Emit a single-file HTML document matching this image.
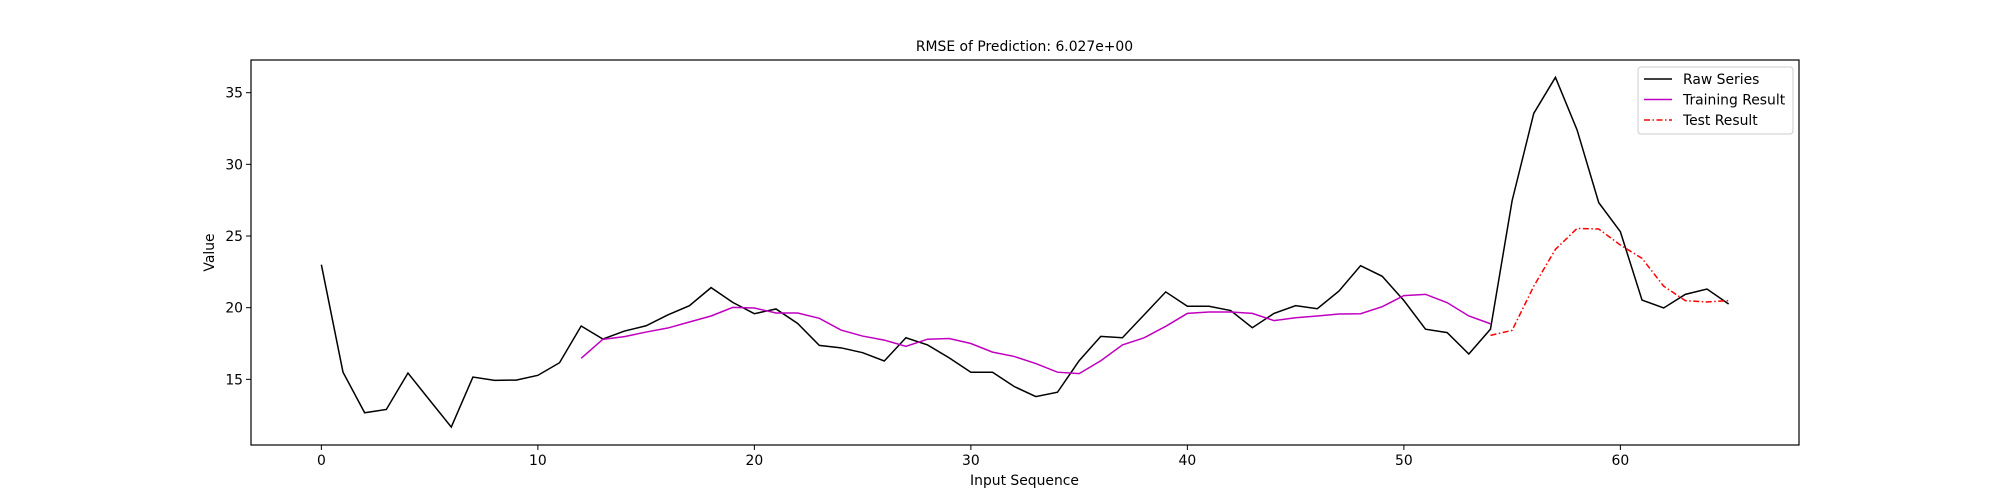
<!DOCTYPE html>
<html><head><meta charset="utf-8"><style>
html,body{margin:0;padding:0;background:#fff;}
svg{display:block;font-family:"DejaVu Sans","Liberation Sans",sans-serif;}
</style></head><body>
<svg id="chart" width="2000" height="500" viewBox="0 0 2000 500">
<rect x="0" y="0" width="2000" height="500" fill="#fff"/>
<text x="1024.5" y="51" text-anchor="middle" font-size="13.9">RMSE of Prediction: 6.027e+00</text>
<g id="plot"></g>
<rect x="251" y="60" width="1548" height="385" fill="none" stroke="#000" stroke-width="1.2"/>
<text x="1024.5" y="485" text-anchor="middle" font-size="13.9">Input Sequence</text>
<text x="0" y="0" transform="translate(214,252.5) rotate(-90)" text-anchor="middle" font-size="13.9">Value</text>
<g>
<rect x="1638" y="67" width="155" height="67" rx="3" fill="#fff" stroke="#ccc" stroke-width="1"/>
<line x1="1644" y1="79" x2="1672" y2="79" stroke="#000" stroke-width="1.5"/>
<text x="1683" y="84" font-size="13.9">Raw Series</text>
<line x1="1644" y1="99.5" x2="1672" y2="99.5" stroke="#c000c0" stroke-width="1.5"/>
<text x="1683" y="104.5" font-size="13.9">Training Result</text>
<line x1="1644" y1="120" x2="1672" y2="120" stroke="#f00" stroke-width="1.5" stroke-dasharray="6,2.5,1.5,2.5"/>
<text x="1683" y="125" font-size="13.9">Test Result</text>
</g>
</svg>
<script>
const rawValues=[23.0,15.5,12.67,12.9,15.44,13.55,11.67,15.16,14.93,14.95,15.28,16.16,18.72,17.81,18.37,18.74,19.49,20.14,21.4,20.37,19.58,19.91,18.9,17.37,17.2,16.86,16.28,17.9,17.4,16.5,15.5,15.5,14.5,13.8,14.1,16.3,18.0,17.9,19.5,21.1,20.1,20.1,19.8,18.6,19.6,20.14,19.93,21.16,22.93,22.19,20.5,18.5,18.26,16.77,18.5,27.47,33.56,36.07,32.4,27.33,25.3,20.53,19.98,20.93,21.3,20.26];
const trainStart=12;
const trainValues=[16.47,17.79,17.98,18.3,18.58,19.0,19.42,20.02,19.98,19.63,19.63,19.26,18.44,18.02,17.74,17.3,17.8,17.85,17.5,16.9,16.6,16.1,15.5,15.4,16.3,17.4,17.9,18.7,19.6,19.7,19.7,19.6,19.1,19.3,19.42,19.56,19.58,20.07,20.84,20.93,20.35,19.42,18.88];
const testStart=54;
const testValues=[18.07,18.42,21.5,24.07,25.53,25.49,24.37,23.44,21.5,20.49,20.4,20.49];
const xTicks=[0,10,20,30,40,50,60];
const yTicks=[15,20,25,30,35];

const L=251,R=1799,T=60,B=445;
const xMin=-3.25,xMax=68.25,yMin=10.42,yMax=37.28;
const sx=v=>L+(v-xMin)/(xMax-xMin)*(R-L);
const sy=v=>B-(v-yMin)/(yMax-yMin)*(B-T);
const NS="http://www.w3.org/2000/svg";
const g=document.getElementById('plot');
function mk(tag,attrs){const e=document.createElementNS(NS,tag);for(const k in attrs)e.setAttribute(k,attrs[k]);g.appendChild(e);return e;}
xTicks.forEach(t=>{
 const l=mk('line',{x1:sx(t),x2:sx(t),y1:B,y2:B+5,stroke:'#000','stroke-width':1});
 
 
 const tx=mk('text',{x:sx(t),y:B+20,'text-anchor':'middle','font-size':13.9});
 tx.textContent=t;
 
 
});
yTicks.forEach(t=>{
 const l=mk('line',{x1:L-5,x2:L,y1:sy(t),y2:sy(t),stroke:'#000','stroke-width':1});
 
 
 const tx=mk('text',{x:L-8,y:sy(t)+5,'text-anchor':'end','font-size':13.9});
 tx.textContent=t;
 
 
});
function pts(vals,start){return vals.map((v,i)=>sx(start+i).toFixed(2)+','+sy(v).toFixed(2)).join(' ');}
const p1=mk('polyline',{points:pts(rawValues,0),fill:'none',stroke:'#000','stroke-width':1.5});


const p2=mk('polyline',{points:pts(trainValues,trainStart),fill:'none',stroke:'#c000c0','stroke-width':1.5});


const p3=mk('polyline',{points:pts(testValues,testStart),fill:'none',stroke:'#f00','stroke-width':1.5,'stroke-dasharray':'6,2.5,1.5,2.5'});


</script>
</body></html>
